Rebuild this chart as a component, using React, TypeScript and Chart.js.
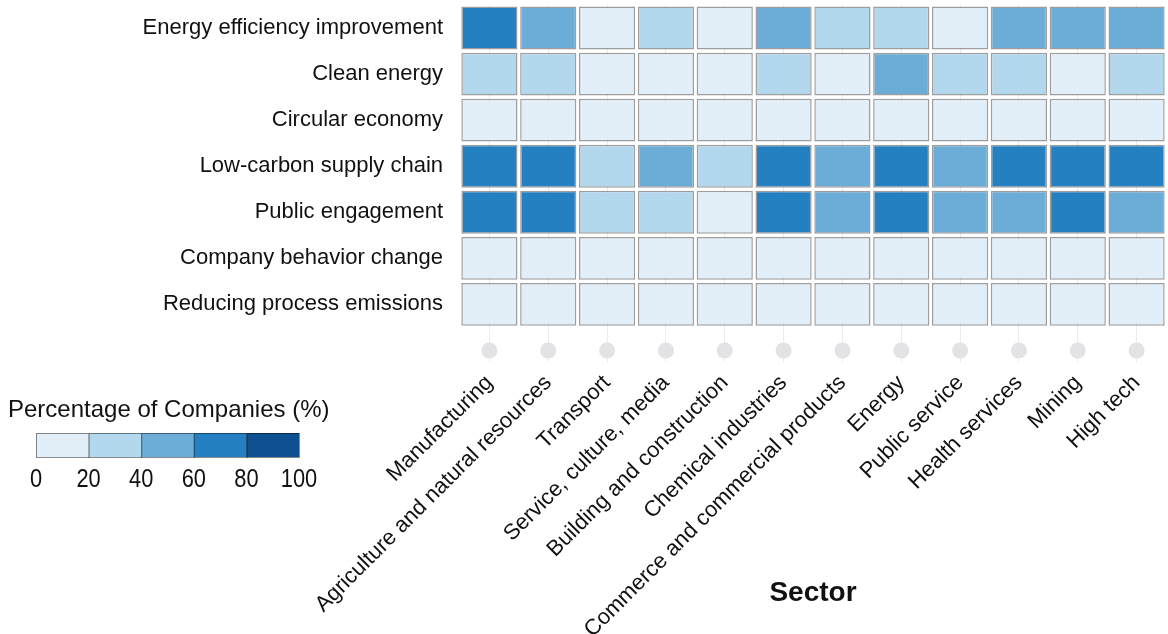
import React, { useEffect, useRef } from "react";
import { Chart, registerables } from "chart.js";

Chart.register(...registerables);

const SECTORS = [
  "Manufacturing",
  "Agriculture and natural resources",
  "Transport",
  "Service, culture, media",
  "Building and construction",
  "Chemical industries",
  "Commerce and commercial products",
  "Energy",
  "Public service",
  "Health services",
  "Mining",
  "High tech",
];

const MEASURES = [
  "Energy efficiency improvement",
  "Clean energy",
  "Circular economy",
  "Low-carbon supply chain",
  "Public engagement",
  "Company behavior change",
  "Reducing process emissions",
];

// Percentage of companies (%) per measure, one value per sector
const ENERGY_EFFICIENCY = [68, 52, 14, 33, 12, 48, 31, 28, 16, 50, 55, 47];
const CLEAN_ENERGY = [30, 27, 10, 13, 15, 35, 11, 45, 26, 32, 12, 29];
const CIRCULAR_ECONOMY = [8, 6, 9, 7, 5, 10, 8, 6, 7, 9, 5, 11];
const LOW_CARBON_SUPPLY = [72, 70, 34, 47, 28, 75, 44, 73, 49, 66, 71, 69];
const PUBLIC_ENGAGEMENT = [70, 68, 30, 36, 17, 71, 46, 74, 51, 42, 76, 53];
const BEHAVIOR_CHANGE = [6, 5, 4, 7, 6, 5, 4, 6, 3, 5, 4, 6];
const PROCESS_EMISSIONS = [4, 3, 5, 4, 3, 6, 4, 5, 3, 4, 5, 4];

const VALUES = [
  ENERGY_EFFICIENCY,
  CLEAN_ENERGY,
  CIRCULAR_ECONOMY,
  LOW_CARBON_SUPPLY,
  PUBLIC_ENGAGEMENT,
  BEHAVIOR_CHANGE,
  PROCESS_EMISSIONS,
];

const BREAKS = [0, 20, 40, 60, 80, 100];
const BIN_COLORS = ["#e2eef8", "#b3d7ec", "#6badd6", "#2480c0", "#0d4f91"];

const LEGEND_TITLE = "Percentage of Companies (%)";
const X_TITLE = "Sector";

const FONT = "'Liberation Sans', Arial, sans-serif";
const TEXT = "#111111";
const CELL_GAP = 0.035;
const DOT_LEVEL = -0.5;

function colorFor(v: number): string {
  for (let k = 0; k < BIN_COLORS.length; k++) {
    if (v < BREAKS[k + 1]) return BIN_COLORS[k];
  }
  return BIN_COLORS[BIN_COLORS.length - 1];
}

const legendPlugin = {
  id: "binLegend",
  afterDraw(chart: any) {
    const ctx = chart.ctx as CanvasRenderingContext2D;
    ctx.save();
    ctx.fillStyle = TEXT;
    ctx.font = `24px ${FONT}`;
    ctx.textAlign = "left";
    ctx.textBaseline = "alphabetic";
    ctx.fillText(LEGEND_TITLE, 8, 417);
    const x0 = 36;
    const x1 = 299;
    const y0 = 433;
    const h = 24;
    const w = (x1 - x0) / BIN_COLORS.length;
    BIN_COLORS.forEach((c, k) => {
      ctx.fillStyle = c;
      ctx.fillRect(x0 + k * w, y0, w, h);
      ctx.strokeStyle = "rgba(0,0,0,0.45)";
      ctx.lineWidth = 1;
      ctx.strokeRect(x0 + k * w + 0.5, y0 + 0.5, w, h);
    });
    ctx.fillStyle = TEXT;
    ctx.font = `26px ${FONT}`;
    ctx.textAlign = "center";
    const sx = 0.84;
    BREAKS.forEach((b, k) => {
      ctx.save();
      ctx.translate(x0 + k * w, 487);
      ctx.scale(sx, 1);
      ctx.fillText(String(b), 0, 0);
      ctx.restore();
    });
    ctx.restore();
  },
};

export default function App() {
  const ref = useRef<HTMLCanvasElement | null>(null);

  useEffect(() => {
    if (!ref.current) return;
    const n = MEASURES.length;
    const datasets: any[] = MEASURES.map((m, i) => ({
      type: "bar",
      label: m,
      data: SECTORS.map(() => [n - 1 - i + CELL_GAP, n - i - CELL_GAP]),
      backgroundColor: VALUES[i].map(colorFor),
      borderColor: "rgba(0,0,0,0.38)",
      borderWidth: 1.5,
      borderSkipped: false,
      grouped: false,
      categoryPercentage: 0.955,
      barPercentage: 1,
      order: 2,
    }));
    datasets.push({
      type: "line",
      label: "dots",
      data: SECTORS.map(() => DOT_LEVEL),
      showLine: false,
      pointRadius: 8,
      pointBackgroundColor: "#e3e3e5",
      pointBorderWidth: 0,
      order: 1,
    });

    const chart = new Chart(ref.current, {
      type: "bar",
      data: { labels: SECTORS, datasets },
      options: {
        animation: false,
        responsive: false,
        devicePixelRatio: 1,
        layout: { autoPadding: false, padding: { top: 5, right: 2, left: 0, bottom: 0 } },
        plugins: { legend: { display: false }, tooltip: { enabled: false } },
        scales: {
          x: {
            type: "category",
            offset: true,
            afterFit: (s: any) => {
              s.height = 272;
              s.paddingLeft = 0;
              s.paddingRight = 0;
              s.paddingTop = 0;
              s.paddingBottom = 0;
            },
            grid: { offset: false, color: "#ececec", lineWidth: 1, drawTicks: false },
            border: { display: false },
            ticks: {
              autoSkip: false,
              minRotation: 45,
              maxRotation: 45,
              padding: 8,
              color: TEXT,
              font: { family: FONT, size: 22 },
            },
            title: {
              display: true,
              text: X_TITLE,
              color: TEXT,
              font: { family: FONT, size: 28, weight: "bold" },
              padding: { top: 0, bottom: 24 },
            },
          },
          y: {
            type: "linear",
            min: -0.75,
            max: MEASURES.length,
            afterFit: (s: any) => {
              s.width = 460;
              s.paddingTop = 0;
              s.paddingBottom = 0;
              s.paddingLeft = 0;
              s.paddingRight = 0;
            },
            afterBuildTicks: (s: any) => {
              s.ticks = MEASURES.map((_, i) => ({ value: n - 1 - i + 0.5 }));
            },
            grid: { display: false, drawTicks: false },
            border: { display: false },
            ticks: {
              padding: 17,
              color: TEXT,
              font: { family: FONT, size: 22 },
              callback: (v: any) => MEASURES[n - 1 - Math.floor(Number(v))],
            },
          },
        },
      },
      plugins: [legendPlugin],
    });
    return () => chart.destroy();
  }, []);

  return (
    <div style={{ position: "absolute", left: 0, top: 0, width: 1168, height: 634, background: "#fff" }}>
      <canvas ref={ref} width={1168} height={634} style={{ display: "block" }} />
    </div>
  );
}
